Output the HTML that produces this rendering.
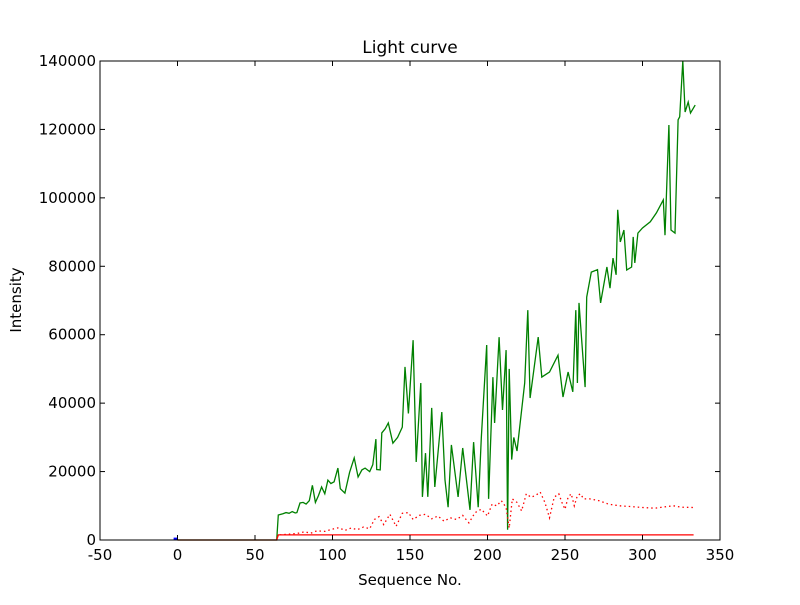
<!DOCTYPE html>
<html><head><meta charset="utf-8"><style>
body{margin:0;background:#fff}
svg text{font-family:"DejaVu Sans","Liberation Sans",sans-serif;fill:#000}
</style></head><body>
<svg id="chart" width="800" height="600" viewBox="0 0 800 600">
<rect width="800" height="600" fill="#fff"/>
<g id="plot"></g>
<text x="410" y="53" font-size="17" text-anchor="middle">Light curve</text>
<text x="410" y="585" font-size="15" text-anchor="middle">Sequence No.</text>
<text x="21" y="300" font-size="15" text-anchor="middle" transform="rotate(-90 21 300)">Intensity</text>
</svg>
<script>
const xTicks=[-50,0,50,100,150,200,250,300,350];
const yTicks=[0,20000,40000,60000,80000,100000,120000,140000];
const greenX=[0,64,65,68,70,72,74,76,77,79,81,83,85,87,89,91,93,95,97,99,101,103.5,105,108,111,114,116.5,119,121,124,126,128,128.5,130.8,131.8,134,136,139,142,145,146.8,149,152,154,157,158,160,161.5,164,166,170.5,172.6,174.6,176.7,181,184,188.7,191,194,196,199.5,200.7,203.5,204.6,207.5,209.7,212,213,214,215.6,217,219,224,226,227.5,232.7,235,240,245.5,248.7,252,255,257,258,259,263,264,267,271,273,277,279,281,283,284,285.7,288,289.8,293,294,295,297,300,305,309,313.4,314.5,317,318.4,321,323,324,326,327.5,329.5,331,334];
const greenY=[0,0,7300,7700,8000,7800,8300,7900,8000,10800,11000,10500,11500,16000,11000,13000,15500,13500,17500,16500,17000,21000,15000,13700,19800,24000,18400,20500,21000,20000,22000,29500,20600,20500,31300,32500,34200,28300,30000,33000,50600,37000,58400,22800,45900,12600,25400,12600,38600,15500,37400,17500,9600,27800,12600,26900,8800,28600,9600,29800,57000,12000,47600,34200,59300,38000,55500,3000,50000,23500,30000,26000,45900,67200,41500,59300,47600,49100,54000,41800,49100,43300,67200,45900,69300,44700,71000,78300,79000,69300,79800,73600,82400,77500,96500,87100,90600,78900,79800,88600,81000,89700,91200,93000,95600,99400,89100,121300,90600,89700,122800,123700,140000,125100,128000,124800,127100];
const dotX=[66,72,78,82,86,90,95,100,104,108,112,116,120,124,127,130,133,137,141,145,149,152,156,160,164,168,172,176,180,184,188,192,196,200,203,206,209,212,214,216,219,222,225,228,231,234,237,240,243,246,248,250,252,254,256,258,260,262,266,272,278,285,292,300,308,316,320,325,333];
const dotY=[1500,1700,2000,2400,2000,2700,2500,3200,3600,2800,3500,3000,3800,3300,6000,6800,4500,7500,4000,7800,8000,6000,7200,7500,6200,7000,5500,6500,6000,7200,5000,8000,9000,7000,10500,10000,11500,9500,3500,12000,11000,8500,13500,12500,13000,14000,11000,6500,12500,13500,11000,9000,12500,13500,10000,13000,13500,12000,12000,11500,10500,10000,9800,9500,9300,9800,10000,9600,9500];
const redX=[0,64,65,333];
const redY=[0,0,1500,1500];
const L=100,R=720,T=61,B=540,xmin=-50,xmax=350,ymax=140000;
const sx=v=>L+(v-xmin)/(xmax-xmin)*(R-L);
const sy=v=>B-v/ymax*(B-T);
const NS="http://www.w3.org/2000/svg";
const plot=document.getElementById('plot');
function mk(tag,attrs){const e=document.createElementNS(NS,tag);for(const k in attrs)e.setAttribute(k,attrs[k]);plot.appendChild(e);return e;}
function pts(xs,ys){return xs.map((x,i)=>sx(x).toFixed(1)+","+sy(ys[i]).toFixed(1)).join(" ");}
const g=mk('polyline',{points:pts(greenX,greenY),fill:'none',stroke:'#008000','stroke-width':1.3});


const d=mk('polyline',{points:pts(dotX,dotY),fill:'none',stroke:'#ff0000','stroke-width':1.3,'stroke-dasharray':'1.5,3'});


const r=mk('polyline',{points:pts(redX,redY),fill:'none',stroke:'#ff0000','stroke-width':1.3});


const b=mk('rect',{x:sx(-2.5),y:sy(700),width:sx(0)-sx(-2.5),height:sy(0)-sy(700),fill:'#0000ff'});


const fr=mk('rect',{x:L,y:T,width:R-L,height:B-T,fill:'none',stroke:'#000','stroke-width':1});


xTicks.forEach(v=>{
  const x=sx(v);
  mk('line',{x1:x,x2:x,y1:B,y2:B-5,stroke:'#000'});
  mk('line',{x1:x,x2:x,y1:T,y2:T+5,stroke:'#000'});
  const t=mk('text',{x:x,y:B+20,'font-size':15,'text-anchor':'middle'});t.textContent=v;
  
  
});
yTicks.forEach(v=>{
  const y=sy(v);
  mk('line',{x1:L,x2:L+5,y1:y,y2:y,stroke:'#000'});
  mk('line',{x1:R,x2:R-5,y1:y,y2:y,stroke:'#000'});
  const t=mk('text',{x:L-4,y:y+5,'font-size':15,'text-anchor':'end'});t.textContent=v;
  
  
});
</script>
</body></html>
